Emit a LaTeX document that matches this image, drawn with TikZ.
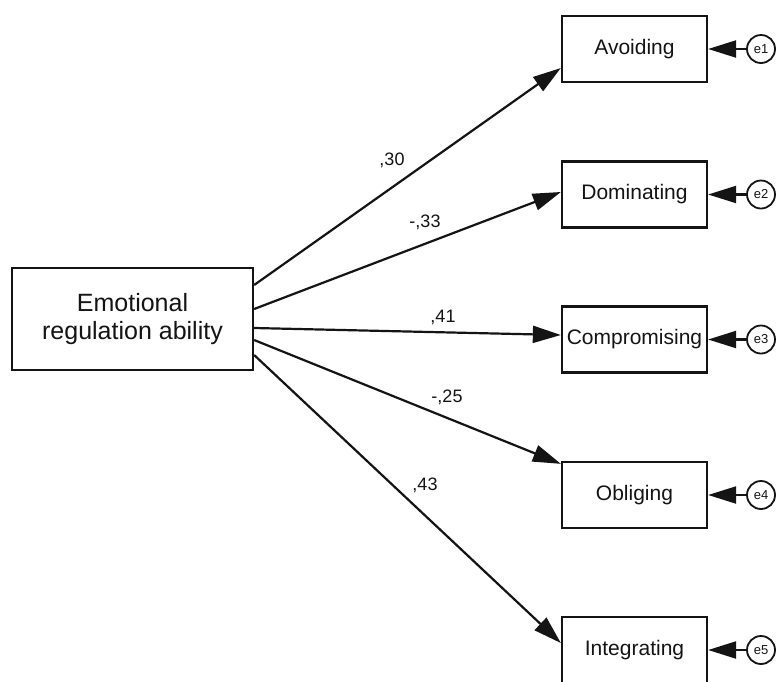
\documentclass[tikz,border=0pt]{standalone}
\usepackage{fontspec}
\setmainfont{Liberation Sans}
\usetikzlibrary{arrows.meta}
\definecolor{ink}{HTML}{141414}
\begin{document}
\begin{tikzpicture}[x=1pt,y=-1pt,
  obsbox/.style={draw=ink,line width=2.3pt,minimum width=145pt,minimum height=66pt,inner sep=0pt,text=ink,font=\fontsize{21}{24}\selectfont},
  errc/.style={draw=ink,circle,line width=1.8pt,minimum size=28pt,inner sep=0pt,text=ink,font=\fontsize{13}{15}\selectfont},
  path/.style={draw=ink,line width=2.2pt,-{Triangle[length=28pt,width=17pt]}},
  coef/.style={text=ink,font=\fontsize{18}{20}\selectfont,inner sep=0pt}]
\useasboundingbox (0,0) rectangle (776,681);
\fill[white] (0,0) rectangle (776,681);
\node[draw=ink,line width=2.3pt,minimum width=241pt,minimum height=102pt,inner sep=0pt,text=ink,align=center,font=\fontsize{25}{28}\selectfont] (era) at (132.5,319) {Emotional\\regulation ability};
\node[obsbox] (avoid) at (634.5,49) {Avoiding};
\node[obsbox] (dom) at (634.5,194.5) {Dominating};
\node[obsbox] (comp) at (634.5,339.5) {Compromising};
\node[obsbox] (obl) at (634.5,495) {Obliging};
\node[obsbox] (integ) at (634.5,650) {Integrating};
\node[errc] (e1) at (761,49) {e1};
\node[errc] (e2) at (761,194.5) {e2};
\node[errc] (e3) at (761,339.5) {e3};
\node[errc] (e4) at (761,495) {e4};
\node[errc] (e5) at (761,650) {e5};
\foreach \e/\b in {e1/avoid,e2/dom,e3/comp,e4/obl,e5/integ}
  \draw[path] (\e) -- (\b);
\draw[path] ([yshift=34pt]era.east) -- ([yshift=-19pt]avoid.west);
\draw[path] ([yshift=10pt]era.east) -- ([yshift=2.5pt]dom.west);
\draw[path] ([yshift=-9pt]era.east) -- ([yshift=4.5pt]comp.west);
\draw[path] ([yshift=-21pt]era.east) -- ([yshift=-3pt]obl.north west);
\draw[path] ([yshift=-36pt]era.east) -- ([yshift=7pt]integ.west);
\node[coef] (c1) at (392,160) {,30};
\node[coef] (c2) at (425,222) {-,33};
\node[coef] (c3) at (443,317) {,41};
\node[coef] (c4) at (447,397) {-,25};
\node[coef] (c5) at (425,485) {,43};
\end{tikzpicture}
\end{document}
